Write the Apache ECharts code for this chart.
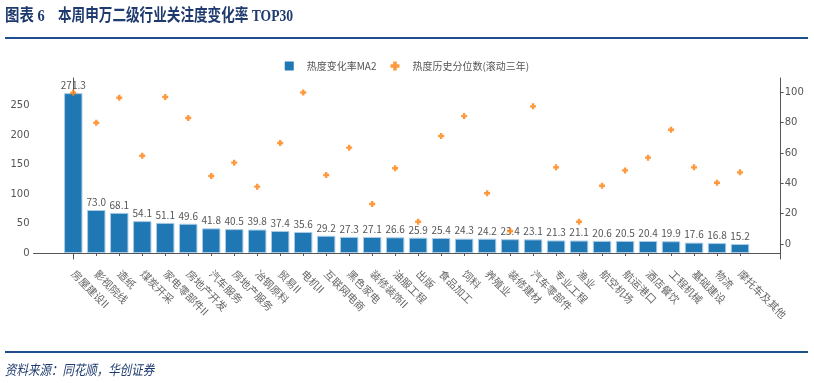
<!DOCTYPE html>
<html><head><meta charset="utf-8">
<script src="https://cdn.jsdelivr.net/npm/echarts@6/dist/echarts.min.js"></script>
<style>html,body{margin:0;padding:0;background:#fff}#c{width:814px;height:383px}</style>
</head><body><div id="c"></div>
<script>
const categories = ['房屋建设II','影视院线','造纸','煤炭开采','家电零部件II','房地产开发','汽车服务','房地产服务','冶钢原料','贸易II','电机II','互联网电商','黑色家电','装修装饰II','油服工程','出版','食品加工','饲料','养殖业','装修建材','汽车零部件','专业工程','渔业','航空机场','航运港口','酒店餐饮','工程机械','基础建设','物流','摩托车及其他'];
const heatChange = [271.3,73.0,68.1,54.1,51.1,49.6,41.8,40.5,39.8,37.4,35.6,29.2,27.3,27.1,26.6,25.9,25.4,24.3,24.2,23.4,23.1,21.3,21.1,20.6,20.5,20.4,19.9,17.6,16.8,15.2];
const percentile = [99.7,79.9,96.4,58.2,96.9,83.0,44.8,53.6,37.8,66.6,99.8,45.5,63.5,26.4,49.9,14.7,71.2,84.3,33.4,8.6,90.7,50.5,14.7,38.4,48.5,56.9,75.3,50.5,40.4,47.2];
const leftTicks = [0,50,100,150,200,250];
const rightTicks = [0,20,40,60,80,100];
const seriesNames = ['热度变化率MA2','热度历史分位数(滚动三年)'];
const titleLabel = '图表 6';
const titleText = '本周申万二级行业关注度变化率 TOP30';
const sourceText = '资料来源：同花顺，华创证券';

const idx = categories.map((c,i)=>i);
const chart = echarts.init(document.getElementById('c'), null, {renderer:'canvas'});
const plus = 'path://M3,0H7V3H10V7H7V10H3V7H0V3H3Z';
const axisCol = '#555';
const navy = '#1f3a6e';
const titleFont = 'bold 17px "Liberation Serif", "Noto Sans CJK SC"';
chart.setOption({
  animation:false,
  backgroundColor:'#fff',
  graphic:[
    {type:'text', x:5, y:17, scaleX:0.85, style:{text:titleLabel, font:titleFont, fill:navy, verticalAlign:'middle'}},
    {type:'text', x:58, y:17, scaleX:0.8, style:{text:titleText, font:titleFont, fill:navy, verticalAlign:'middle'}},
    {type:'text', x:5, y:370, scaleX:0.82, style:{text:sourceText, font:'italic 14px "Noto Sans CJK SC"', fill:navy, verticalAlign:'middle'}},
    {type:'line', shape:{x1:5,y1:38,x2:808,y2:38}, style:{stroke:'#1f4e8c', lineWidth:2}},
    {type:'line', shape:{x1:5,y1:352,x2:808,y2:352}, style:{stroke:'#1f4e8c', lineWidth:2}}
  ],
  legend:{
    top:56, left:'center', itemGap:14, itemWidth:9, itemHeight:9,
    textStyle:{fontFamily:'"Noto Sans CJK SC"', fontSize:10, color:'#555', padding:[0,0,0,8]},
    data:[{name:seriesNames[0], icon:'rect', itemStyle:{color:'#1f77b4', borderWidth:0}},
          {name:seriesNames[1], icon:plus, itemStyle:{color:'#ff7f0e'}}]
  },
  grid:{left:33.5, right:33.3, top:78, bottom:124, containLabel:false},
  xAxis:{
    type:'value', min:-1.73, max:30.77,
    axisLine:{show:true, lineStyle:{color:axisCol}},
    splitLine:{show:false},
    axisTick:{show:true, customValues:idx, length:3, lineStyle:{color:axisCol}},
    axisLabel:{customValues:idx, formatter:v=>categories[Math.round(v)], rotate:-45, margin:13,
      fontFamily:'"Noto Sans CJK SC"', fontSize:10.5, color:'#666'}
  },
  yAxis:[
    {type:'value', min:-10.2, max:297, position:'left',
     axisLine:{show:true, lineStyle:{color:axisCol}}, splitLine:{show:false},
     axisTick:{show:true, customValues:leftTicks, length:3, lineStyle:{color:axisCol}},
     axisLabel:{customValues:leftTicks, fontFamily:'"DejaVu Sans"', fontSize:10, color:'#555', margin:4}},
    {type:'value', min:-9.9, max:109.4, position:'right',
     axisLine:{show:true, lineStyle:{color:axisCol}}, splitLine:{show:false},
     axisTick:{show:true, customValues:rightTicks, length:3, lineStyle:{color:axisCol}},
     axisLabel:{customValues:rightTicks, fontFamily:'"DejaVu Sans"', fontSize:10, color:'#555', margin:4}}
  ],
  series:[
    {name:seriesNames[0], type:'bar', yAxisIndex:0, barWidth:18.4,
     data:idx.map(i=>[i, heatChange[i]]),
     itemStyle:{color:'#1f77b4', borderColor:'#a9cbe6', borderWidth:1},
     label:{show:true, position:'top', distance:3, formatter:p=>p.value[1].toFixed(1),
       fontFamily:'"Noto Sans CJK SC"', fontSize:10, color:'#555'}},
    {name:seriesNames[1], type:'scatter', yAxisIndex:1, symbol:plus, symbolSize:6,
     data:idx.map(i=>[i, percentile[i]]),
     itemStyle:{color:'#ff7f0e'}, z:5}
  ]
});
</script></body></html>
